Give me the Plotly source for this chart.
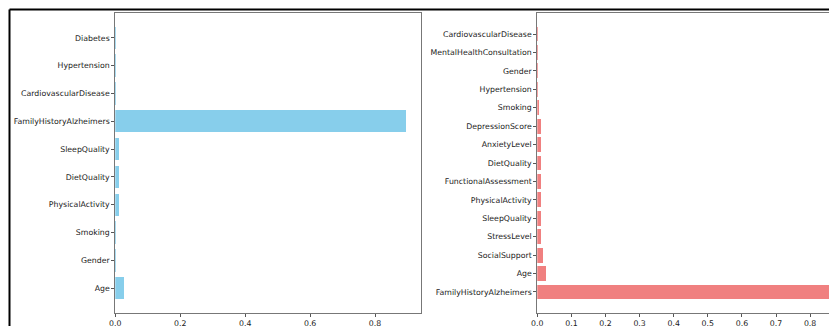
import plotly.graph_objects as go

# Page has an 8px body margin; the figure is sized to fit inside it.
OFF = 8
W, H = 837 - OFF, 326 - OFF

# Left chart data (bottom to top)
left_features = ["Age", "Gender", "Smoking", "PhysicalActivity", "DietQuality",
                 "SleepQuality", "FamilyHistoryAlzheimers", "CardiovascularDisease",
                 "Hypertension", "Diabetes"]
left_values = [0.028, 0.001, 0.003, 0.012, 0.013, 0.012, 0.897, 0.002, 0.002, 0.0005]

# Right chart data (bottom to top)
right_features = ["FamilyHistoryAlzheimers", "Age", "SocialSupport", "StressLevel",
                  "SleepQuality", "PhysicalActivity", "FunctionalAssessment",
                  "DietQuality", "AnxietyLevel", "DepressionScore", "Smoking",
                  "Hypertension", "Gender", "MentalHealthConsultation",
                  "CardiovascularDisease"]
right_values = [0.855, 0.025, 0.018, 0.012, 0.012, 0.012, 0.012, 0.012, 0.012,
                0.012, 0.004, 0.002, 0.001, 0.001, 0.001]

left_ticks = [0.0, 0.2, 0.4, 0.6, 0.8]
right_ticks = [0.0, 0.1, 0.2, 0.3, 0.4, 0.5, 0.6, 0.7, 0.8]

fig = go.Figure()
fig.add_trace(go.Bar(x=left_values, y=left_features, orientation="h",
                     marker=dict(color="#87CEEB", line=dict(width=0)),
                     width=0.8, xaxis="x", yaxis="y", showlegend=False))
fig.add_trace(go.Bar(x=right_values, y=right_features, orientation="h",
                     marker=dict(color="#F08080", line=dict(width=0)),
                     width=0.8, xaxis="x2", yaxis="y2", showlegend=False))

def px(x):
    return (x - OFF) / W

def py(y):
    return 1 - (y - OFF) / H

font = dict(family="DejaVu Sans", size=7.8, color="#222")
axis_common = dict(showline=True, linecolor="#777", linewidth=1, mirror=True,
                   ticks="outside", ticklen=3, tickcolor="#555", showgrid=False,
                   zeroline=False, tickfont=font, automargin=False)

fig.update_layout(
    width=W, height=H, margin=dict(l=0, r=0, t=0, b=0),
    paper_bgcolor="white", plot_bgcolor="white", bargap=0,
    xaxis=dict(domain=[px(115.3), px(421)], range=[0, 0.9415],
               tickvals=left_ticks, tickformat=".1f", anchor="y", **axis_common),
    yaxis=dict(domain=[py(313), py(13)], range=[-0.89, 9.89],
               type="category", categoryorder="array", categoryarray=left_features,
               anchor="x", **axis_common),
    xaxis2=dict(domain=[px(537.3), 1], range=[0, (837 - 537.3) / 341.0],
                tickvals=right_ticks, tickformat=".1f", anchor="y2", **axis_common),
    yaxis2=dict(domain=[py(313), py(13)], range=[-1.14, 15.14],
                type="category", categoryorder="array", categoryarray=right_features,
                anchor="x2", **axis_common),
    shapes=[
        dict(type="line", xref="paper", yref="paper", x0=px(9.5), x1=1.0,
             y0=py(9.5), y1=py(9.5), line=dict(color="black", width=2)),
        dict(type="line", xref="paper", yref="paper", x0=px(9.5), x1=px(9.5),
             y0=py(9.5), y1=0, line=dict(color="black", width=2)),
    ],
)

fig.write_html("out.html")
